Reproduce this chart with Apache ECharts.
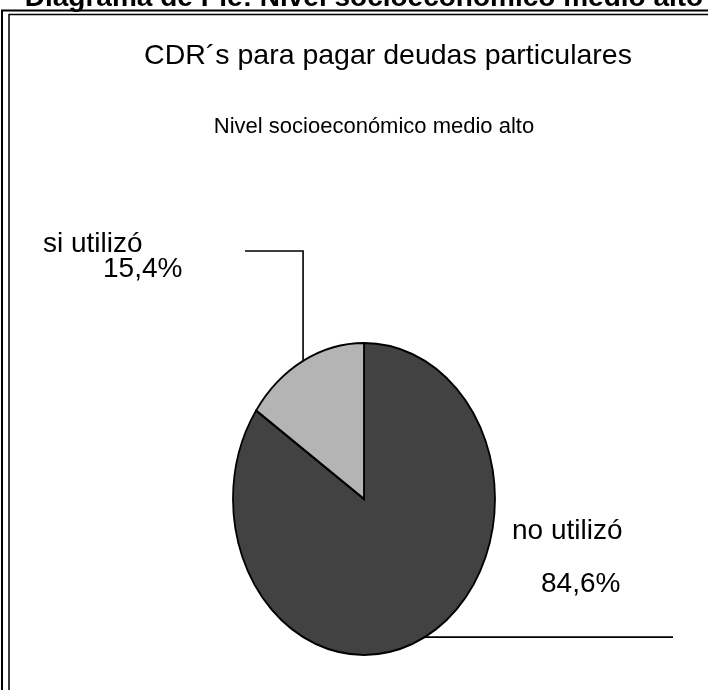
<!DOCTYPE html>
<html>
<head>
<meta charset="utf-8">
<script src="https://cdn.jsdelivr.net/npm/echarts@6/dist/echarts.min.js"></script>
<style>
html,body{margin:0;padding:0;background:#fff;}
#chart{width:708px;height:690px;}
</style>
</head>
<body>
<div id="chart"></div>
<script>
// ---- data ----
const categories = ['no utilizó', 'si utilizó'];
const values = [84.6, 15.4];
const sliceColors = ['#424242', '#b4b4b4'];
const pageTitle = 'Diagrama de Pie: Nivel socioeconómico medio alto';
const chartTitle = 'CDR´s para pagar deudas particulares';
const chartSubtitle = 'Nivel socioeconómico medio alto';

// ---- layout ----
const FONT = '"Liberation Sans", Arial, sans-serif';
const cx = 364, cy = 499, rx = 131, ry = 156;
// label layout per slice (leader end + text anchors)
const labelLayout = [
  { leader: 'right', endX: 673, nameX: 512, nameY: 531, valX: 541, valY: 584 },
  { leader: 'up', elbowY: 251, endX: 245, nameX: 43, nameY: 244, valX: 103, valY: 269 }
];

const total = values.reduce((a, b) => a + b, 0);
const fmt = v => v.toFixed(1).replace('.', ',') + '%';

const chart = echarts.init(document.getElementById('chart'), null, { renderer: 'canvas' });

const option = {
  animation: false,
  backgroundColor: '#fff',
  graphic: [
    { type: 'rect', shape: { x: 2, y: 10.5, width: 900, height: 900 }, style: { fill: 'none', stroke: '#000', lineWidth: 2 } },
    { type: 'rect', shape: { x: 9, y: 14.5, width: 900, height: 900 }, style: { fill: 'none', stroke: '#000', lineWidth: 1.5 } },
    { type: 'text', x: 364, y: -2, style: { text: pageTitle, font: 'bold 28px ' + FONT, fill: '#000', align: 'center', verticalAlign: 'middle' } },
    { type: 'text', x: 388, y: 56, style: { text: chartTitle, font: '28.5px ' + FONT, fill: '#000', align: 'center', verticalAlign: 'middle' } },
    { type: 'text', x: 374, y: 127, style: { text: chartSubtitle, font: '22px ' + FONT, fill: '#000', align: 'center', verticalAlign: 'middle' } }
  ],
  series: [{
    type: 'custom',
    coordinateSystem: 'none',
    data: categories.map((c, i) => ({ name: c, value: values[i] })),
    renderItem: function (params, api) {
      const i = params.dataIndex;
      const v = api.value(0);
      let cum = 0;
      for (let k = 0; k < i; k++) cum += values[k];
      const a0 = -Math.PI / 2 + 2 * Math.PI * cum / total;
      const a1 = a0 + 2 * Math.PI * v / total;
      const am = (a0 + a1) / 2;
      const px = cx + rx * Math.cos(am);
      const py = cy + ry * Math.sin(am);
      const L = labelLayout[i];
      let pts;
      if (L.leader === 'right') pts = [[px, py], [L.endX, py]];
      else pts = [[px, py], [px, L.elbowY], [L.endX, L.elbowY]];
      return {
        type: 'group',
        children: [
          {
            type: 'sector',
            x: cx, y: cy, scaleY: ry / rx,
            shape: { cx: 0, cy: 0, r0: 0, r: rx, startAngle: a0, endAngle: a1, clockwise: true },
            style: { fill: sliceColors[i], stroke: '#000', lineWidth: 1.8, strokeNoScale: true }
          },
          {
            type: 'polyline',
            shape: { points: pts },
            style: { fill: 'none', stroke: '#000', lineWidth: 1.6 }
          },
          {
            type: 'text', x: L.nameX, y: L.nameY,
            style: { text: categories[i], font: '28px ' + FONT, fill: '#000', align: 'left', verticalAlign: 'middle' }
          },
          {
            type: 'text', x: L.valX, y: L.valY,
            style: { text: fmt(v), font: '28px ' + FONT, fill: '#000', align: 'left', verticalAlign: 'middle' }
          }
        ]
      };
    }
  }]
};
chart.setOption(option);
</script>
</body>
</html>
